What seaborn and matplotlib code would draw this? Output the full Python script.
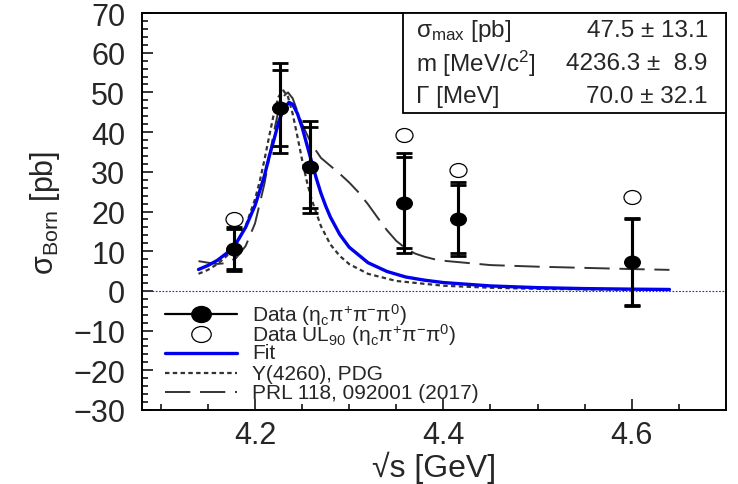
import numpy as np
import matplotlib
matplotlib.use("Agg")
import matplotlib.pyplot as plt
import seaborn as sns
from matplotlib.path import Path
from matplotlib.transforms import Affine2D
from matplotlib.patches import Rectangle
from matplotlib.ticker import MultipleLocator, FormatStrFormatter

# measured points
energy = [4.178, 4.226, 4.258, 4.358, 4.416, 4.600]
sigma = [10.6, 46.1, 31.2, 22.2, 18.1, 7.3]
err_tot = [5.5, 11.3, 11.6, 12.6, 9.4, 11.0]
err_stat = [5.0, 9.6, 10.2, 11.5, 8.5, 10.8]

# 90% upper limits
ul_energy = [4.178, 4.358, 4.416, 4.600]
ul_sigma = [18.1, 39.3, 30.5, 23.7]

# fit curve
fit_x = [4.14, 4.15, 4.16, 4.17, 4.18, 4.19, 4.20, 4.205, 4.21, 4.215, 4.22, 4.225,
         4.23, 4.236, 4.24, 4.245, 4.25, 4.255, 4.26, 4.265, 4.27, 4.275, 4.28, 4.29,
         4.30, 4.32, 4.34, 4.36, 4.38, 4.40, 4.45, 4.50, 4.55, 4.60, 4.64]
fit_y = [5.4, 6.4, 7.7, 9.5, 12.0, 16.0, 21.5, 25.2, 29.0, 33.8, 38.0, 42.5,
         45.6, 47.5, 47.0, 44.7, 41.2, 36.9, 32.6, 28.4, 24.6, 21.4, 18.6, 14.2,
         11.0, 7.1, 4.9, 3.5, 2.7, 2.1, 1.25, 0.82, 0.58, 0.44, 0.36]

# Y(4260) PDG curve
pdg_x = [4.14, 4.15, 4.16, 4.17, 4.18, 4.19, 4.20, 4.205, 4.21, 4.215, 4.22, 4.225,
         4.23, 4.235, 4.24, 4.245, 4.25, 4.255, 4.26, 4.27, 4.28, 4.29, 4.30, 4.32,
         4.35, 4.40, 4.45, 4.50, 4.55, 4.60, 4.64]
pdg_y = [4.3, 5.3, 6.75, 8.8, 11.7, 16.3, 23.1, 27.6, 33.0, 38.9, 44.6, 48.9,
         50.5, 48.9, 44.6, 38.9, 33.0, 27.6, 23.1, 16.3, 11.7, 8.8, 6.75, 4.3,
         2.5, 1.3, 0.79, 0.52, 0.37, 0.28, 0.23]

# PRL 118, 092001 curve
prl_x = [4.14, 4.15, 4.16, 4.17, 4.18, 4.19, 4.20, 4.21, 4.22, 4.225, 4.23, 4.235,
         4.24, 4.25, 4.26, 4.27, 4.28, 4.29, 4.30, 4.31, 4.32, 4.33, 4.34, 4.35,
         4.36, 4.37, 4.38, 4.39, 4.40, 4.45, 4.50, 4.55, 4.60, 4.64]
prl_y = [7.5, 7.1, 6.8, 7.0, 8.3, 11.3, 17.0, 27.0, 40.0, 45.5, 49.0, 50.0,
         48.5, 42.0, 37.0, 33.5, 31.5, 29.5, 27.3, 24.8, 21.8, 18.5, 15.3, 12.6,
         10.7, 9.4, 8.6, 8.0, 7.6, 6.5, 6.1, 5.8, 5.5, 5.3]

fit_labels = ["\u03c3$_{\\rm max}$ [pb]", "m [MeV/c$^{2}$]", "\u0393 [MeV]"]
fit_values = ["47.5 \u00b1 13.1", "4236.3 \u00b1  8.9", "70.0 \u00b1 32.1"]

legend_labels = ["Data (\u03b7$_{\\rm c}$\u03c0$^{+}$\u03c0$^{-}$\u03c0$^{0}$)",
                 "Data UL$_{90}$ (\u03b7$_{\\rm c}$\u03c0$^{+}$\u03c0$^{-}$\u03c0$^{0}$)",
                 "Fit", "Y(4260), PDG", "PRL 118, 092001 (2017)"]

sns.set_theme(style="white")
plt.rcParams['font.family'] = ['Liberation Sans', 'DejaVu Sans']
plt.rcParams['mathtext.fontset'] = 'custom'
plt.rcParams['mathtext.rm'] = 'Liberation Sans'
plt.rcParams['mathtext.it'] = 'Liberation Sans:italic'
plt.rcParams['mathtext.bf'] = 'Liberation Sans:bold'

ellipse = Path.unit_circle().transformed(Affine2D().scale(1.22, 1.0))
long_dash = (0, (13, 5))
short_dot = (0, (2, 1.5))

fig = plt.figure(figsize=(7.38, 4.85), dpi=100)
ax = fig.add_axes([0.1924, 0.1526, 0.7913, 0.8185])

ax.axhline(0, color='#2020ff', lw=0.8, ls=(0, (1.5, 1.5)), zorder=1)

sns.lineplot(x=fit_x, y=fit_y, ax=ax, color='#0000ee', lw=2.4, sort=False, zorder=3)
sns.lineplot(x=pdg_x, y=pdg_y, ax=ax, color='#333333', lw=1.6,
             linestyle=short_dot, sort=False, zorder=2)
sns.lineplot(x=prl_x, y=prl_y, ax=ax, color='#333333', lw=1.4,
             linestyle=long_dash, sort=False, zorder=2)

ax.errorbar(energy, sigma, yerr=err_tot, fmt='none', ecolor='black',
            elinewidth=2.2, capsize=6, capthick=2, zorder=4)
ax.errorbar(energy, sigma, yerr=err_stat, fmt='none', ecolor='black',
            elinewidth=2.2, capsize=6, capthick=2, zorder=4)
sns.scatterplot(x=energy, y=sigma, ax=ax, marker=ellipse, s=150,
                color='black', edgecolor='black', linewidth=0, zorder=5)
sns.scatterplot(x=ul_energy, y=ul_sigma, ax=ax, marker=ellipse, s=150,
                facecolor='white', edgecolor='black', linewidth=0.9, zorder=5)

ax.set_xlim(4.08, 4.70)
ax.set_ylim(-30, 70)
ax.xaxis.set_major_locator(MultipleLocator(0.2))
ax.xaxis.set_minor_locator(MultipleLocator(0.05))
ax.yaxis.set_major_locator(MultipleLocator(10))
ax.yaxis.set_minor_locator(MultipleLocator(2))
ax.tick_params(which='both', direction='in', color='black', width=1.1,
               top=False, right=False, bottom=True, left=True)
ax.tick_params(which='major', length=8)
ax.tick_params(which='minor', length=4.5)
ax.tick_params(axis='y', which='major', labelsize=22, pad=12)
ax.tick_params(axis='x', which='major', labelsize=22, pad=7)
ax.xaxis.set_major_formatter(FormatStrFormatter('%.1f'))
for sp in ax.spines.values():
    sp.set_color('black')
    sp.set_linewidth(1.4)

ax.set_xlabel("\u221as [GeV]", fontsize=23, labelpad=1)
ax.set_ylabel("\u03c3$_{\\rm Born}$ [pb]", fontsize=22, labelpad=8)

# fit result box
ax.add_patch(Rectangle((0.447, 0.748), 0.553, 0.252, transform=ax.transAxes,
                       facecolor='white', edgecolor='black', lw=1.3, zorder=6))
for yy, lab, val in zip([0.958, 0.874, 0.791], fit_labels, fit_values):
    ax.text(0.469, yy, lab, transform=ax.transAxes, fontsize=17.5,
            ha='left', va='center', zorder=7)
    ax.text(0.969, yy, val, transform=ax.transAxes, fontsize=17.5,
            ha='right', va='center', zorder=7)

# legend drawn by hand, ROOT style
rows = [0.242, 0.191, 0.144, 0.093, 0.045]
hx = [0.039, 0.163]
ax.plot(hx, [rows[0]] * 2, transform=ax.transAxes, color='black', lw=1.6)
ax.plot([0.101], [rows[0]], transform=ax.transAxes, marker=ellipse, ms=14,
        color='black', ls='none')
ax.plot([0.101], [rows[1]], transform=ax.transAxes, marker=ellipse, ms=14,
        mfc='white', mec='black', mew=0.9, ls='none')
ax.plot(hx, [rows[2]] * 2, transform=ax.transAxes, color='#0000ee', lw=2.4)
ax.plot(hx, [rows[3]] * 2, transform=ax.transAxes, color='#333333', lw=1.6,
        ls=short_dot)
ax.plot(hx, [rows[4]] * 2, transform=ax.transAxes, color='#333333', lw=1.4,
        ls=long_dash)
for yy, lab in zip(rows, legend_labels):
    ax.text(0.188, yy, lab, transform=ax.transAxes, fontsize=15,
            ha='left', va='center')

fig.savefig("out.png", dpi=100)
